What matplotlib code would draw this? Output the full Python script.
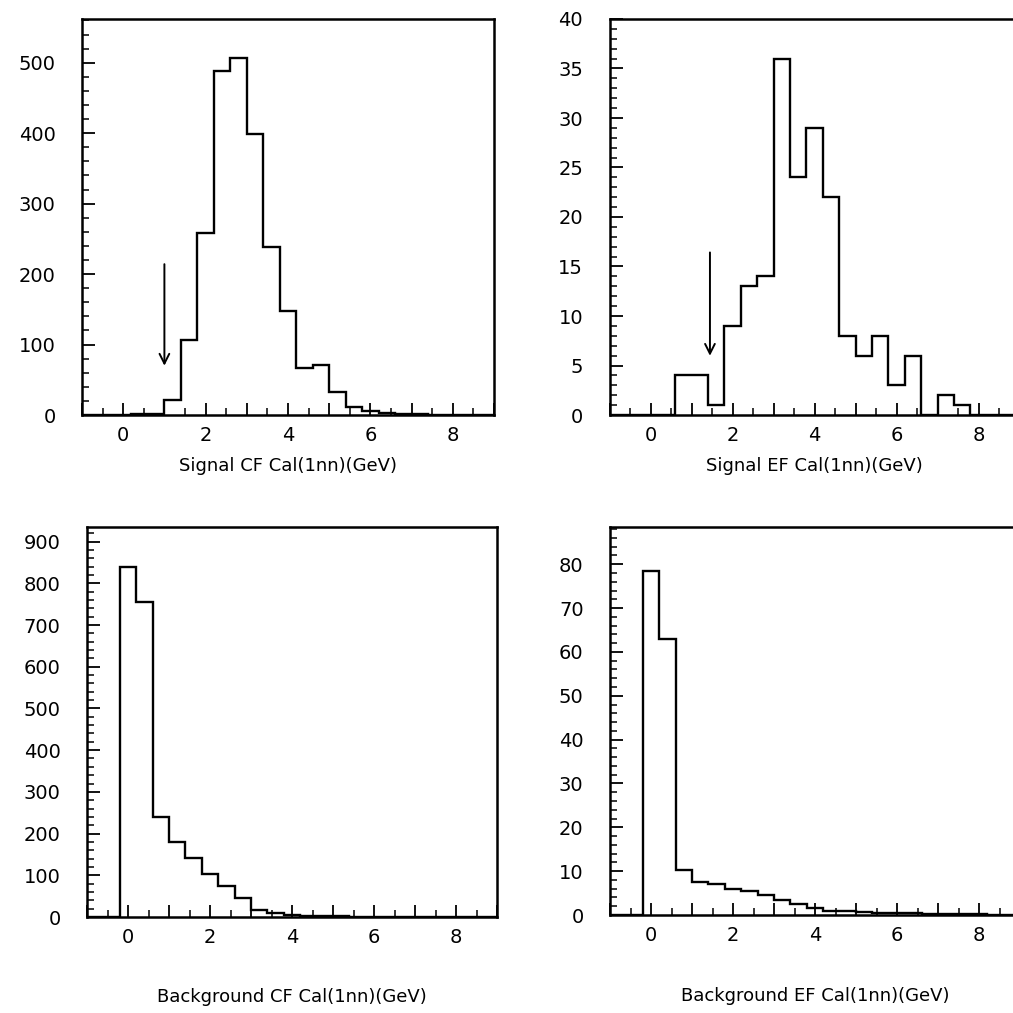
import numpy as np
import matplotlib
matplotlib.use("Agg")
import matplotlib.pyplot as plt
from matplotlib.ticker import MultipleLocator

plt.rcParams['font.family'] = ['DejaVu Sans']

# ---- data ----
bin_edges = np.linspace(-1.0, 9.0, 26)   # 25 bins, width 0.4 GeV

signal_cf = [0, 0, 0, 1, 2, 21, 107, 259, 488, 506, 399, 239, 147, 66, 71, 33,
             12, 5, 3, 2, 1, 0, 0, 0, 0]
signal_ef = [0, 0, 0, 0, 4, 4, 1, 9, 13, 14, 36, 24, 29, 22, 8, 6, 8, 3, 6, 0,
             2, 1, 0, 0, 0]
background_cf = [0, 0, 840, 756, 240, 180, 141, 102, 74, 45, 17, 9, 5, 3, 2, 2,
                 1, 1, 0, 0, 0, 0, 0, 0, 0]
background_ef = [0, 0, 78.5, 63, 10.3, 7.5, 7, 6, 5.5, 4.6, 3.5, 2.5, 1.6, 1.0,
                 0.8, 0.6, 0.5, 0.5, 0.4, 0.3, 0.3, 0.2, 0.2, 0.1, 0.1]

titles = ["Signal CF Cal(1nn)(GeV)", "Signal EF Cal(1nn)(GeV)",
          "Background CF Cal(1nn)(GeV)", "Background EF Cal(1nn)(GeV)"]
ylims = [562, 40, 935, 88.5]
y_major = [100, 5, 100, 10]
y_minor = [20, 1, 20, 2]
x_ticks = [0, 2, 4, 6, 8]

# cut arrows: (x, y_tail, y_head)
arrow_cf = (1.0, 218, 66)
arrow_ef = (1.45, 16.7, 5.7)

# ---- figure ----
W = H = 1013
fig = plt.figure(figsize=(W / 100, H / 100), dpi=100)
fig.patch.set_facecolor('white')

def px_axes(x0, x1, y0, y1):
    return fig.add_axes([x0 / W, (H - y1) / H, (x1 - x0) / W, (y1 - y0) / H])

axes = [
    px_axes(82, 494, 19, 415),
    px_axes(609.5, 1019.5, 19, 415),
    px_axes(87, 497, 527, 917),
    px_axes(610, 1020, 527, 915),
]
title_y = [-0.128, -0.128, -0.205, -0.210]

series = [signal_cf, signal_ef, background_cf, background_ef]

for i, ax in enumerate(axes):
    ax.stairs(series[i], bin_edges, baseline=0, color='black', lw=1.7)
    ax.set_xlim(-1, 9)
    ax.set_ylim(0, ylims[i])
    ax.xaxis.set_minor_locator(MultipleLocator(0.5))
    ax.set_xticks(np.arange(-1, 10, 1))
    ax.set_xticklabels(['' if t not in x_ticks else str(t) for t in range(-1, 10)])
    ax.yaxis.set_major_locator(MultipleLocator(y_major[i]))
    ax.yaxis.set_minor_locator(MultipleLocator(y_minor[i]))
    ax.tick_params(axis='both', which='major', direction='in', length=9,
                   width=1.3, labelsize=14, pad=8, top=False, right=False)
    ax.tick_params(axis='both', which='minor', direction='in', length=5,
                   width=1.1, top=False, right=False)
    ax.tick_params(axis='y', which='major', pad=19)
    for s in ax.spines.values():
        s.set_linewidth(1.8)
    ax.text(0.5, title_y[i], titles[i], transform=ax.transAxes, ha='center',
            va='center', fontsize=13)

style = '->,head_length=0.7,head_width=0.35'
axes[0].annotate('', xy=(arrow_cf[0], arrow_cf[2]), xytext=(arrow_cf[0], arrow_cf[1]),
                 arrowprops=dict(arrowstyle=style, color='black', lw=1.4))
axes[1].annotate('', xy=(arrow_ef[0], arrow_ef[2]), xytext=(arrow_ef[0], arrow_ef[1]),
                 arrowprops=dict(arrowstyle=style, color='black', lw=1.4))

fig.savefig('out.png', dpi=100, facecolor='white')
